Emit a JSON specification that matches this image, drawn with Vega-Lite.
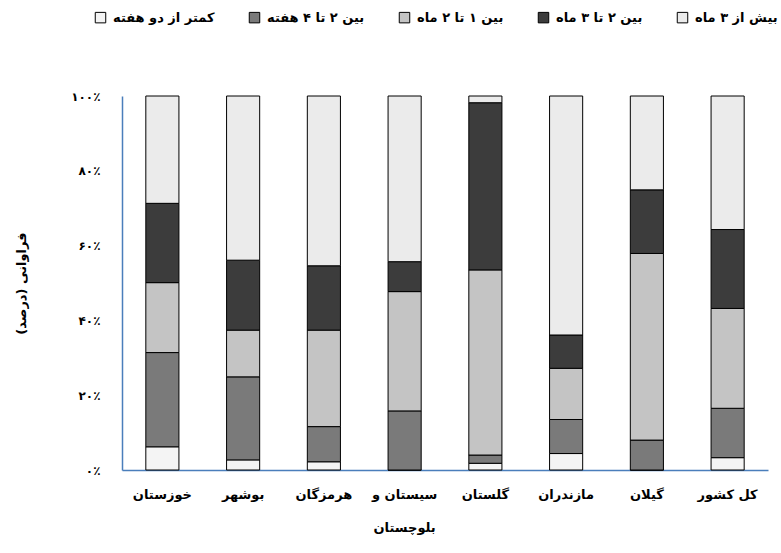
{
  "$schema": "https://vega.github.io/schema/vega-lite/v6.json",
  "autosize": "none",
  "width": 646,
  "height": 374,
  "padding": {"left": 122, "top": 96, "right": 13, "bottom": 83},
  "background": "white",
  "config": {
    "view": {"stroke": null},
    "font": "DejaVu Sans",
    "axis": {"labelFont": "DejaVu Sans", "titleFont": "DejaVu Sans"}
  },
  "data": {
    "values": [
      {"province": "خوزستان", "period": "کمتر از دو هفته", "rank": 1, "pct": 6.2},
      {"province": "خوزستان", "period": "بین ۲ تا ۴ هفته", "rank": 2, "pct": 25.2},
      {"province": "خوزستان", "period": "بین ۱ تا ۲ ماه", "rank": 3, "pct": 18.7},
      {"province": "خوزستان", "period": "بین ۲ تا ۳ ماه", "rank": 4, "pct": 21.2},
      {"province": "خوزستان", "period": "بیش از ۳ ماه", "rank": 5, "pct": 28.7},
      {"province": "بوشهر", "period": "کمتر از دو هفته", "rank": 1, "pct": 2.7},
      {"province": "بوشهر", "period": "بین ۲ تا ۴ هفته", "rank": 2, "pct": 22.2},
      {"province": "بوشهر", "period": "بین ۱ تا ۲ ماه", "rank": 3, "pct": 12.5},
      {"province": "بوشهر", "period": "بین ۲ تا ۳ ماه", "rank": 4, "pct": 18.7},
      {"province": "بوشهر", "period": "بیش از ۳ ماه", "rank": 5, "pct": 43.9},
      {"province": "هرمزگان", "period": "کمتر از دو هفته", "rank": 1, "pct": 2.2},
      {"province": "هرمزگان", "period": "بین ۲ تا ۴ هفته", "rank": 2, "pct": 9.4},
      {"province": "هرمزگان", "period": "بین ۱ تا ۲ ماه", "rank": 3, "pct": 25.8},
      {"province": "هرمزگان", "period": "بین ۲ تا ۳ ماه", "rank": 4, "pct": 17.2},
      {"province": "هرمزگان", "period": "بیش از ۳ ماه", "rank": 5, "pct": 45.4},
      {"province": "سیستان و بلوچستان", "period": "کمتر از دو هفته", "rank": 1, "pct": 0},
      {"province": "سیستان و بلوچستان", "period": "بین ۲ تا ۴ هفته", "rank": 2, "pct": 15.8},
      {"province": "سیستان و بلوچستان", "period": "بین ۱ تا ۲ ماه", "rank": 3, "pct": 31.9},
      {"province": "سیستان و بلوچستان", "period": "بین ۲ تا ۳ ماه", "rank": 4, "pct": 8.0},
      {"province": "سیستان و بلوچستان", "period": "بیش از ۳ ماه", "rank": 5, "pct": 44.3},
      {"province": "گلستان", "period": "کمتر از دو هفته", "rank": 1, "pct": 1.8},
      {"province": "گلستان", "period": "بین ۲ تا ۴ هفته", "rank": 2, "pct": 2.2},
      {"province": "گلستان", "period": "بین ۱ تا ۲ ماه", "rank": 3, "pct": 49.5},
      {"province": "گلستان", "period": "بین ۲ تا ۳ ماه", "rank": 4, "pct": 44.7},
      {"province": "گلستان", "period": "بیش از ۳ ماه", "rank": 5, "pct": 1.8},
      {"province": "مازندران", "period": "کمتر از دو هفته", "rank": 1, "pct": 4.4},
      {"province": "مازندران", "period": "بین ۲ تا ۴ هفته", "rank": 2, "pct": 9.1},
      {"province": "مازندران", "period": "بین ۱ تا ۲ ماه", "rank": 3, "pct": 13.7},
      {"province": "مازندران", "period": "بین ۲ تا ۳ ماه", "rank": 4, "pct": 8.9},
      {"province": "مازندران", "period": "بیش از ۳ ماه", "rank": 5, "pct": 63.9},
      {"province": "گیلان", "period": "کمتر از دو هفته", "rank": 1, "pct": 0},
      {"province": "گیلان", "period": "بین ۲ تا ۴ هفته", "rank": 2, "pct": 8.0},
      {"province": "گیلان", "period": "بین ۱ تا ۲ ماه", "rank": 3, "pct": 49.9},
      {"province": "گیلان", "period": "بین ۲ تا ۳ ماه", "rank": 4, "pct": 17.0},
      {"province": "گیلان", "period": "بیش از ۳ ماه", "rank": 5, "pct": 25.1},
      {"province": "کل کشور", "period": "کمتر از دو هفته", "rank": 1, "pct": 3.3},
      {"province": "کل کشور", "period": "بین ۲ تا ۴ هفته", "rank": 2, "pct": 13.2},
      {"province": "کل کشور", "period": "بین ۱ تا ۲ ماه", "rank": 3, "pct": 26.7},
      {"province": "کل کشور", "period": "بین ۲ تا ۳ ماه", "rank": 4, "pct": 21.1},
      {"province": "کل کشور", "period": "بیش از ۳ ماه", "rank": 5, "pct": 35.7}
    ]
  },
  "mark": {"type": "bar", "stroke": "black", "strokeWidth": 1},
  "encoding": {
    "x": {
      "field": "province",
      "type": "nominal",
      "sort": ["خوزستان", "بوشهر", "هرمزگان", "سیستان و بلوچستان", "گلستان", "مازندران", "گیلان", "کل کشور"],
      "scale": {"paddingInner": 0.59, "paddingOuter": 0.295},
      "axis": {
        "title": null,
        "labelAngle": 0,
        "labelFontSize": 13,
        "labelFontWeight": "bold",
        "labelColor": "black",
        "labelPadding": 18,
        "labelLineHeight": 33,
        "labelExpr": "datum.value == 'سیستان و بلوچستان' ? ['سیستان و', 'بلوچستان'] : datum.value",
        "ticks": false,
        "domainColor": "#4a7ebb",
        "domainWidth": 1.5
      }
    },
    "y": {
      "field": "pct",
      "type": "quantitative",
      "stack": "normalize",
      "scale": {"domain": [0, 1]},
      "axis": {
        "title": "فراوانی (درصد)",
        "titleFontSize": 13,
        "titleFontWeight": "bold",
        "titleColor": "black",
        "titlePadding": 42,
        "values": [0, 0.2, 0.4, 0.6, 0.8, 1],
        "labelExpr": "['۰٪', '۲۰٪', '۴۰٪', '۶۰٪', '۸۰٪', '۱۰۰٪'][round(datum.value * 5)]",
        "labelFontSize": 12,
        "labelFontWeight": "bold",
        "labelColor": "black",
        "labelPadding": 22,
        "grid": false,
        "ticks": false,
        "domainColor": "#4a7ebb",
        "domainWidth": 1.5
      }
    },
    "color": {
      "field": "period",
      "type": "nominal",
      "sort": ["کمتر از دو هفته", "بین ۲ تا ۴ هفته", "بین ۱ تا ۲ ماه", "بین ۲ تا ۳ ماه", "بیش از ۳ ماه"],
      "scale": {
        "domain": ["کمتر از دو هفته", "بین ۲ تا ۴ هفته", "بین ۱ تا ۲ ماه", "بین ۲ تا ۳ ماه", "بیش از ۳ ماه"],
        "range": ["#f4f4f4", "#7a7a7a", "#c4c4c4", "#3c3c3c", "#ebebeb"]
      },
      "legend": {
        "title": null,
        "orient": "none",
        "legendX": -28,
        "legendY": -85,
        "direction": "horizontal",
        "columns": 5,
        "columnPadding": 32,
        "symbolType": "square",
        "symbolSize": 110,
        "symbolStrokeColor": "black",
        "symbolStrokeWidth": 1,
        "symbolOpacity": 1,
        "labelFontSize": 13,
        "labelFontWeight": "bold",
        "labelColor": "black",
        "labelOffset": 6
      }
    },
    "order": {"field": "rank", "type": "quantitative", "sort": "ascending"}
  }
}
